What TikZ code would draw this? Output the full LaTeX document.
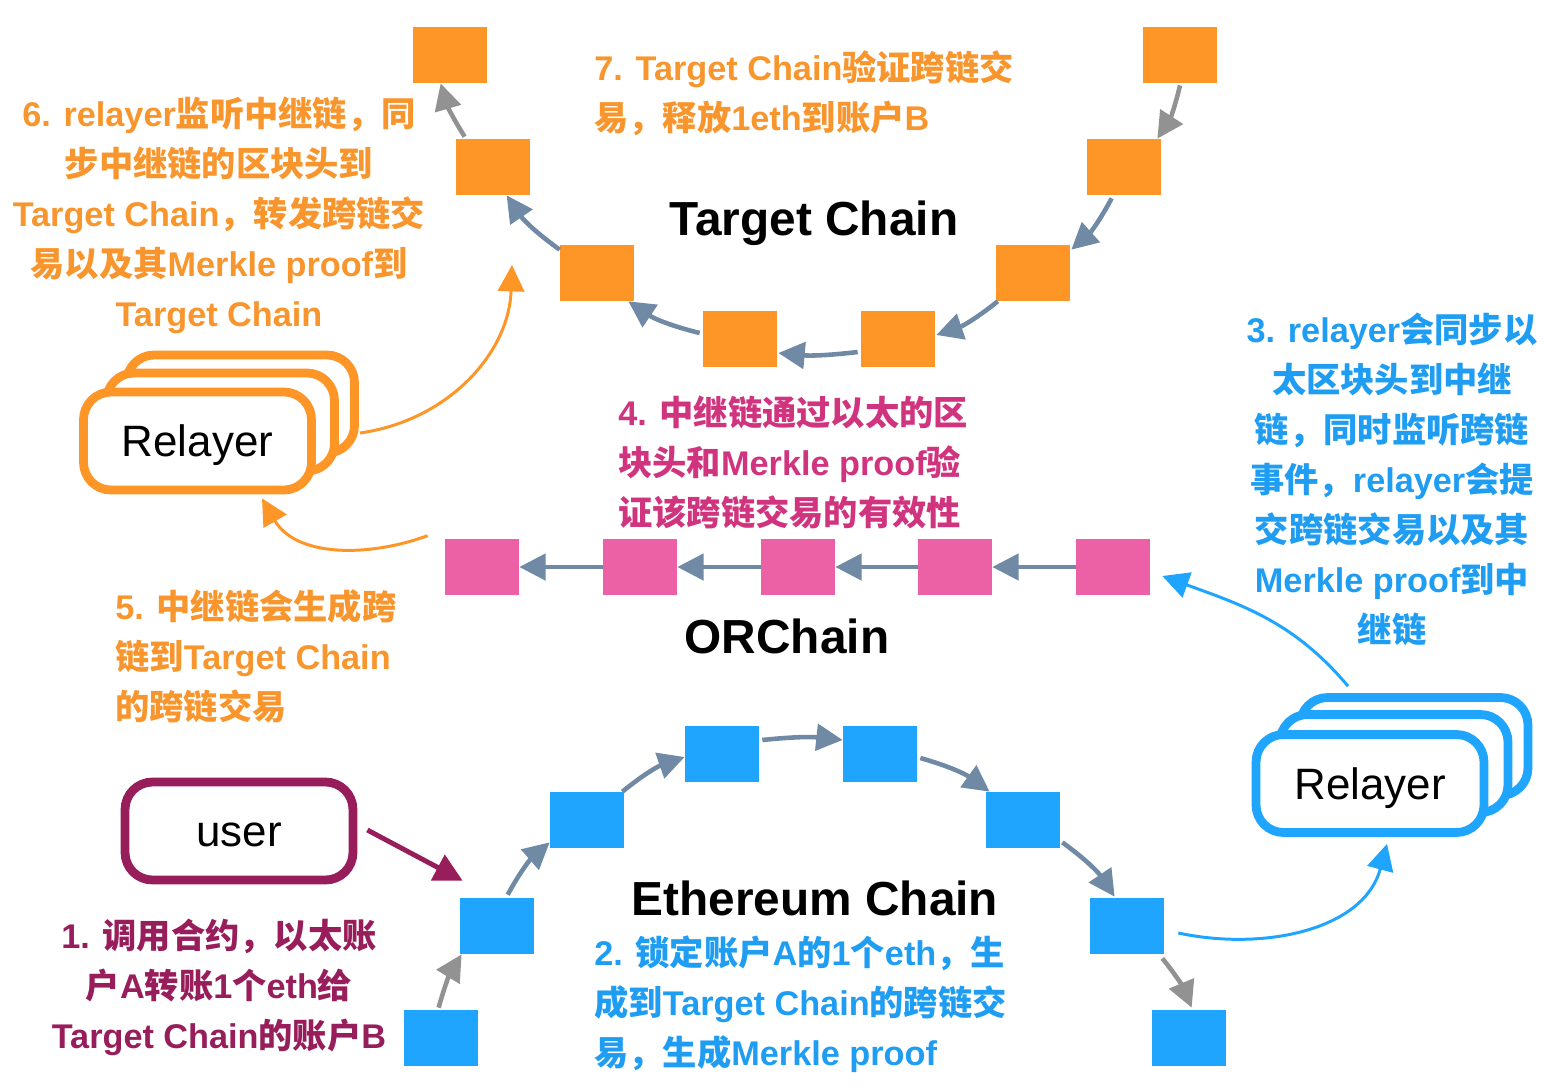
\documentclass[tikz,border=0pt]{standalone}
\usepackage{fontspec}
\setmainfont{Liberation Sans}
\newfontfamily\cjk{Noto Sans CJK SC}
\newfontfamily\latf{Liberation Sans}
\newcommand\E[1]{{\latf\bfseries #1}}
\usetikzlibrary{arrows.meta,calc}
\definecolor{corange}{HTML}{FD9527}
\definecolor{cpink}{HTML}{EC61A5}
\definecolor{cblue}{HTML}{1FA5FE}
\definecolor{cslate}{HTML}{7089A5}
\definecolor{cgray}{HTML}{929292}
\definecolor{cpurple}{HTML}{981D5B}
\definecolor{cmag}{HTML}{D1347F}
\definecolor{ctblue}{HTML}{1F9DF2}
\definecolor{ctorange}{HTML}{F8952D}
\begin{document}
\begin{tikzpicture}[x=0.02cm,y=-0.02cm,
  blk/.style={minimum width=1.48cm, minimum height=1.12cm, inner sep=0pt, draw=none},
  tblk/.style={blk, fill=corange},
  pblk/.style={blk, fill=cpink},
  eblk/.style={blk, fill=cblue},
  arr/.style={line width=2.6pt, draw=cslate, -{Triangle[length=15pt,width=15pt]}},
  garr/.style={arr, draw=cgray},
  thinarr/.style={line width=1.7pt, -{Triangle[length=15pt,width=15pt]}},
  uarr/.style={line width=2.8pt, draw=cpurple, -{Triangle[length=16pt,width=16pt]}},
  box/.style={draw, line width=5pt, rounded corners=0.55cm, fill=white,
    minimum width=4.56cm, minimum height=1.96cm, inner sep=0pt,
    text height=20pt, text depth=2pt,
    font=\fontsize{25}{30}\selectfont\latf},
  lab/.style={font=\fontsize{19.5}{28.45}\selectfont\bfseries\cjk, inner sep=0pt},
  title/.style={font=\fontsize{27.2}{32}\selectfont\bfseries\latf, inner sep=0pt, anchor=base}
]
\useasboundingbox (0,0) rectangle (1552,1090);

% Target chain blocks
\node[tblk] (T1) at (450,55) {};
\node[tblk] (T2) at (493,167) {};
\node[tblk] (T3) at (597,273) {};
\node[tblk] (T4) at (740,339) {};
\node[tblk] (T5) at (898,339) {};
\node[tblk] (T6) at (1033,273) {};
\node[tblk] (T7) at (1124,167) {};
\node[tblk] (T8) at (1180,55) {};

% ORChain blocks
\node[pblk] (P1) at (482,567) {};
\node[pblk] (P2) at (640,567) {};
\node[pblk] (P3) at (798,567) {};
\node[pblk] (P4) at (955,567) {};
\node[pblk] (P5) at (1113,567) {};

% Ethereum blocks
\node[eblk] (E1) at (441,1038) {};
\node[eblk] (E2) at (497,926) {};
\node[eblk] (E3) at (587,820) {};
\node[eblk] (E4) at (722,754) {};
\node[eblk] (E5) at (880,754) {};
\node[eblk] (E6) at (1023,820) {};
\node[eblk] (E7) at (1127,926) {};
\node[eblk] (E8) at (1189,1038) {};

% Target chain arrows
\draw[garr] ($(T8.south)+(0,2)$) to[bend left=10] ($(T7.north east)+(-4,0)$);
\draw[arr] ($(T7.south west)+(25,3)$) to[bend left=10] ($(T6.north east)+(1,5)$);
\draw[arr] ($(T6.south west)+(2,0)$) to[bend left=10] ($(T5.east)+(1,-4)$);
\draw[arr] ($(T5.west)+(-3,13)$) to[bend left=6] ($(T4.east)+(1,14)$);
\draw[arr] ($(T4.west)+(-3,-6)$) to[bend left=10] ($(T3.south east)+(-6,0)$);
\draw[arr] ($(T3.north west)+(0,5)$) to[bend left=10] ($(T2.south west)+(51,0)$);
\draw[garr] ($(T2.north west)+(9,-2)$) to[bend left=8] ($(T1.south west)+(28,0)$);

% ORChain arrows
\draw[arr, line width=2.3pt] (P2.west) -- (P1.east);
\draw[arr, line width=2.3pt] (P3.west) -- (P2.east);
\draw[arr, line width=2.3pt] (P4.west) -- (P3.east);
\draw[arr, line width=2.3pt] (P5.west) -- (P4.east);

% Ethereum arrows
\draw[garr] ($(E1.north west)+(35,-2)$) to[bend left=8] ($(E2.south west)+(2,0)$);
\draw[arr] ($(E2.north west)+(48,-3)$) to[bend left=10] ($(E3.south west)+(0,-6)$);
\draw[arr] ($(E3.north east)+(-2,0)$) to[bend left=10] ($(E4.west)+(0,3)$);
\draw[arr] ($(E4.east)+(3,-14)$) to[bend left=6] ($(E5.west)+(0,-14)$);
\draw[arr] ($(E5.east)+(3,4)$) to[bend left=10] ($(E6.north west)+(4,0)$);
\draw[arr] ($(E6.south east)+(2,-6)$) to[bend left=10] ($(E7.north west)+(25,-1)$);
\draw[garr] ($(E7.south east)+(-2,4)$) to[bend left=8] ($(E8.north west)+(40,-2)$);

% Relayer left
\node[box, draw=corange] (relL3) at (240.5,404) {};
\node[box, draw=corange] (relL2) at (220.5,422) {};
\node[box, draw=corange] (relL) at (197.5,441) {Relayer};

% Relayer right
\node[box, draw=cblue] (relR3) at (1414,746.5) {};
\node[box, draw=cblue] (relR2) at (1394,763.5) {};
\node[box, draw=cblue] (relR) at (1370,783.5) {Relayer};

% user
\node[box, draw=cpurple] (user) at (239,831) {user};

% relayer arrows
\coordinate (tipL) at (512,265);
\draw[thinarr, draw=corange] ($(relL3.east)+(1,29)$) to[out=8, in=-92] (tipL);
\draw[thinarr, draw=corange] ($(P1.north west)+(-17,-3)$) to[out=200, in=-60] ($(relL.south)+(64.5,4)$);
\draw[thinarr, draw=cblue] ($(E7.east)+(14,7)$) to[out=-12, in=-105] ($(relR.south)+(17,7)$);
\draw[thinarr, draw=cblue] ($(relR3.north)+(-66,-7)$) to[out=130, in=-20] ($(P5.east)+(12,9)$);

% user arrow
\draw[uarr] ($(user.east)+(10,-1)$) -- ($(E2.north west)+(3,-17)$);

% titles
\node[title] (tTarget) at (814,235) {Target Chain};
\node[title] (tOR) at (787,653) {ORChain};
\node[title] (tEth) at (815,915) {Ethereum Chain};

% labels
\node[lab, text=ctorange, align=center] (s6) at (219,215.5) {\E{6. relayer}监听中继链，同\\步中继链的区块头到\\\E{Target Chain}，转发跨链交\\易以及其\E{Merkle proof}到\\\E{Target Chain}};
\node[lab, text=ctorange, align=left, anchor=west] (s7) at (594,93) {\E{7. Target Chain}验证跨链交\\易，释放\E{1eth}到账户\E{B}};
\node[lab, text=ctblue, align=center] (s3) at (1392,479.5) {\E{3. relayer}会同步以\\太区块头到中继\\链，同时监听跨链\\事件，\E{relayer}会提\\交跨链交易以及其\\\E{Merkle proof}到中\\继链};
\node[lab, text=cmag, align=left, anchor=west] (s4) at (618,462) {\E{4. }中继链通过以太的区\\块头和\E{Merkle proof}验\\证该跨链交易的有效性};
\node[lab, text=ctorange, align=left, anchor=west] (s5) at (115,656) {\E{5. }中继链会生成跨\\链到\E{Target Chain}\\的跨链交易};
\node[lab, text=cpurple, align=center] (s1) at (219,987) {\E{1. }调用合约，以太账\\户\E{A}转账\E{1}个\E{eth}给\\\E{Target Chain}的账户\E{B}};
\node[lab, text=ctblue, align=left, anchor=west] (s2) at (594,1004) {\E{2. }锁定账户\E{A}的\E{1}个\E{eth}，生\\成到\E{Target Chain}的跨链交\\易，生成\E{Merkle proof}};
\end{tikzpicture}
\end{document}
